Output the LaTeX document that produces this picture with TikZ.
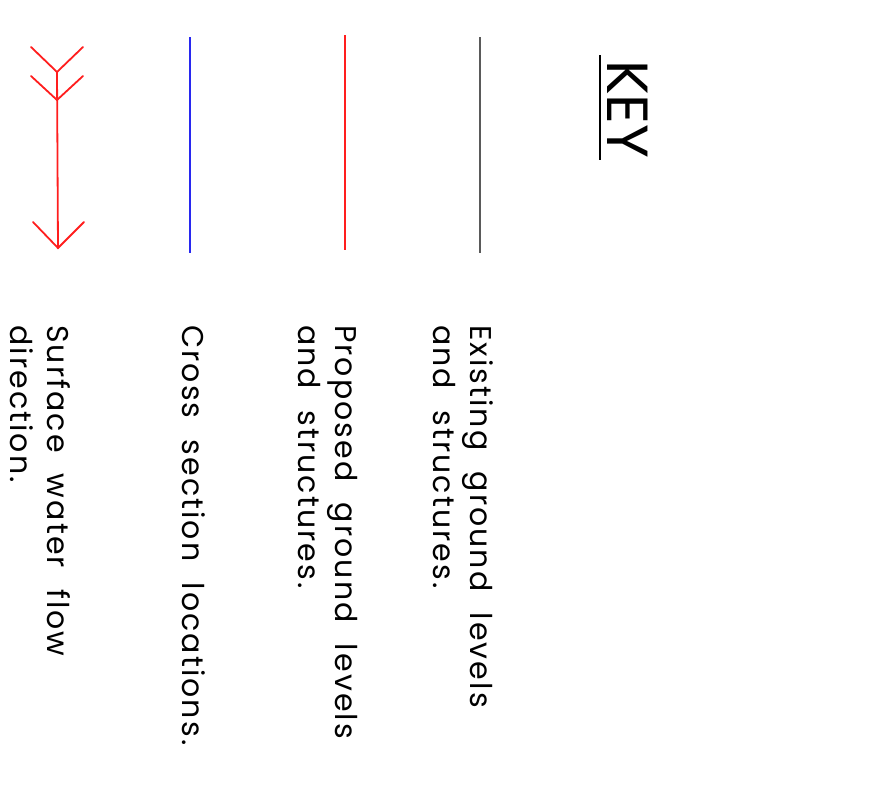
\documentclass[tikz,border=0pt]{standalone}
\usepackage{fontspec}
\setmainfont{Poppins}[WordSpace=2.1,LetterSpace=7]
\newfontfamily\keyfont{Poppins}
\definecolor{keyred}{RGB}{255,30,30}
\definecolor{keyblue}{RGB}{40,40,240}
\definecolor{keygray}{RGB}{90,90,90}
\begin{document}
\begin{tikzpicture}[x=1pt,y=-1pt,
  txt/.style={rotate=-90,anchor=base west,inner sep=0pt,font=\fontsize{30}{36}\selectfont},
  sample/.style={line width=1.8pt},
  flow/.style={line width=1.8pt,keyred,line cap=round,line join=miter}]
\useasboundingbox (0,0) rectangle (878,796);
% title
\node[rotate=-90,anchor=base west,inner sep=0pt,font=\keyfont\fontsize{58}{64}\selectfont] (key) at (607,60) {KEY};
\coordinate (ul1) at (600,55);
\coordinate (ul2) at (600,160);
\draw[line width=1.8pt] (ul1) -- (ul2);
% samples
\coordinate (g1) at (480,37); \coordinate (g2) at (480,253);
\draw[sample,keygray] (g1) -- (g2);
\coordinate (r1) at (345,35); \coordinate (r2) at (345,250);
\draw[sample,keyred] (r1) -- (r2);
\coordinate (b1) at (190,37); \coordinate (b2) at (190,253);
\draw[sample,keyblue] (b1) -- (b2);
% flow arrow
\coordinate (fa) at (57,72); \coordinate (fb) at (57,100); \coordinate (fc) at (58,248);
\draw[flow] (fa) -- (fc);
\draw[flow] (31,47) -- (fa) -- (83,47);
\draw[flow] (31,76) -- (fb) -- (83,76);
\draw[flow] (33,222) -- (fc) -- (84,222);
% labels
\node[txt] (t1a) at (470,325) {Existing ground levels};
\node[txt] (t1b) at (433,325) {and structures.};
\node[txt] (t2a) at (335,325) {Proposed ground levels};
\node[txt] (t2b) at (298,325) {and structures.};
\node[txt] (t3a) at (182,325) {Cross section locations.};
\node[txt] (t4a) at (47,325) {Surface water flow};
\node[txt] (t4b) at (10,325) {direction.};
\end{tikzpicture}
\end{document}
